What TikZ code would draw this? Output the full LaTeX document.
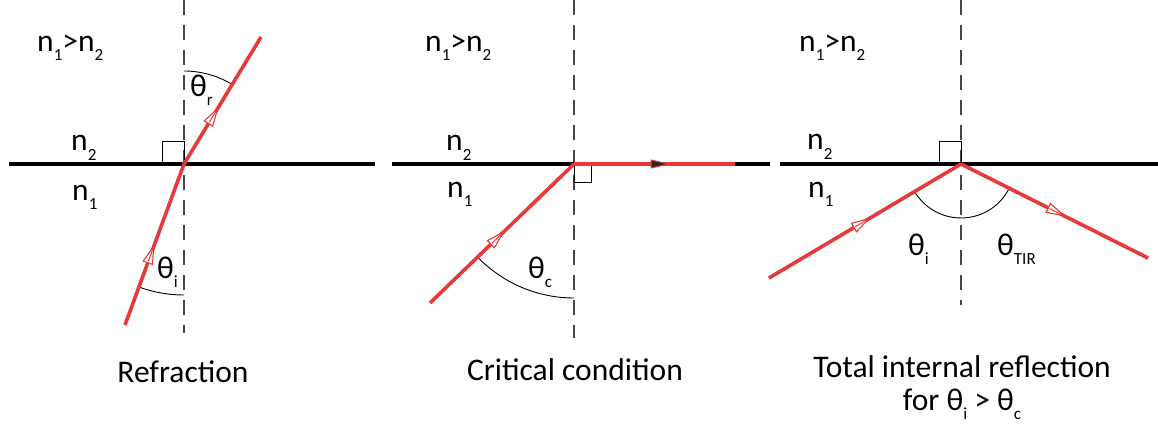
\documentclass[tikz,border=0pt]{standalone}
\usepackage{fontspec}
\setmainfont{Carlito}
\usetikzlibrary{arrows.meta,decorations.markings,calc}
\definecolor{rayred}{RGB}{230,58,58}
\definecolor{normgray}{RGB}{70,70,70}
\newcommand\lowsub[1]{\raisebox{-9pt}{\fontsize{17}{17}\selectfont #1}}
\begin{document}
\begin{tikzpicture}[x=1pt,y=1pt,
  surface/.style={line width=3.8pt,black},
  normal/.style={line width=1.1pt,normgray,dash pattern=on 15pt off 10pt},
  ray/.style={line width=3.6pt,rayred},
  midarrow/.style={postaction={decorate},decoration={markings,mark=at position #1 with {\arrow[line width=1.1pt,rayred]{Triangle[open,fill=white,length=20pt,width=11pt]}\draw[rayred,line width=1pt] (-18pt,0) -- (0,0);}}},
  darkarrow/.style={postaction={decorate},decoration={markings,mark=at position #1 with {\arrow[line width=1pt,rayred]{Triangle[fill=black!85,length=20pt,width=9pt]}}}},
  anglearc/.style={line width=0.9pt,black},
  sq/.style={line width=1pt,black},
  lbl/.style={inner sep=0pt,anchor=base west,font=\fontsize{31.5}{36}\selectfont},
  captext/.style={inner sep=0pt,anchor=base,font=\fontsize{31.5}{38}\selectfont,align=center}]
\useasboundingbox (0,0) rectangle (1158,429);
% ---------- Panel 1: Refraction ----------
\coordinate (v1) at (184,265);
\coordinate (a1) at (125,104);
\coordinate (b1) at (261,392);
\coordinate (s1l) at (9,265);
\coordinate (s1r) at (375,265);
\coordinate (n1t) at (184,429);
\coordinate (n1b) at (184,96);
\draw[normal] (n1t) -- (n1b);
\draw[sq] (v1) rectangle ++(-22,22);
\draw[surface] (s1l) -- (s1r);
\draw[anglearc] ($(v1)+(58.8:93)$) arc[start angle=58.8,end angle=90,radius=93];
\draw[anglearc] ($(v1)+(249.9:131)$) arc[start angle=249.9,end angle=270,radius=131];
\draw[ray,midarrow=0.5] (a1) -- (v1);
\draw[ray,midarrow=0.45] (v1) -- (b1);
\node[lbl] (p1r) at (37,377) {n\lowsub{1}>n\lowsub{2}};
\node[lbl] (p1n2) at (71,278) {n\lowsub{2}};
\node[lbl] (p1n1) at (72,229) {n\lowsub{1}};
\node[lbl] (p1tr) at (190,332) {θ\lowsub{r}};
\node[lbl] (p1ti) at (157,151) {θ\lowsub{i}};
\node[captext] (p1c) at (183,47) {Refraction};
% ---------- Panel 2: Critical condition ----------
\coordinate (v2) at (574,265);
\coordinate (a2) at (430,126);
\coordinate (e2) at (735,265);
\coordinate (s2l) at (392,265);
\coordinate (s2r) at (770,265);
\coordinate (n2t) at (574,429);
\coordinate (n2b) at (574,91);
\draw[normal] (n2t) -- (n2b);
\draw[sq] (v2) rectangle ++(17,-18);
\draw[surface] (s2l) -- (s2r);
\draw[anglearc] ($(v2)+(224:134)$) arc[start angle=224,end angle=270,radius=134];
\draw[ray,midarrow=0.52] (a2) -- (v2);
\draw[ray,darkarrow=0.6] (v2) -- (e2);
\node[lbl] (p2r) at (425,377) {n\lowsub{1}>n\lowsub{2}};
\node[lbl] (p2n2) at (446,278) {n\lowsub{2}};
\node[lbl] (p2n1) at (447,232) {n\lowsub{1}};
\node[lbl] (p2tc) at (528,151) {θ\lowsub{c}};
\node[captext] (p2c) at (575,49) {Critical condition};
% ---------- Panel 3: Total internal reflection ----------
\coordinate (v3) at (961,265);
\coordinate (a3) at (769,151);
\coordinate (b3) at (1148,171);
\coordinate (s3l) at (780,265);
\coordinate (s3r) at (1158,265);
\coordinate (n3t) at (961,429);
\coordinate (n3b) at (961,124);
\draw[normal] (n3t) -- (n3b);
\draw[sq] (v3) rectangle ++(-22,22);
\draw[surface] (s3l) -- (s3r);
\draw[anglearc] ($(v3)+(210.7:54)$) arc[start angle=210.7,end angle=333.3,radius=54];
\draw[ray,midarrow=0.53] (a3) -- (v3);
\draw[ray,midarrow=0.56] (v3) -- (b3);
\node[lbl] (p3r) at (799,377) {n\lowsub{1}>n\lowsub{2}};
\node[lbl] (p3n2) at (807,279) {n\lowsub{2}};
\node[lbl] (p3n1) at (808,232) {n\lowsub{1}};
\node[lbl] (p3ti) at (908,174) {θ\lowsub{i}};
\node[lbl] (p3tt) at (997,174) {θ\lowsub{TIR}};
\node[captext] (p3c) at (962,52) {Total internal reflection};
\node[captext] (p3d) at (962,19) {for θ\lowsub{i} > θ\lowsub{c}};
\end{tikzpicture}
\end{document}
